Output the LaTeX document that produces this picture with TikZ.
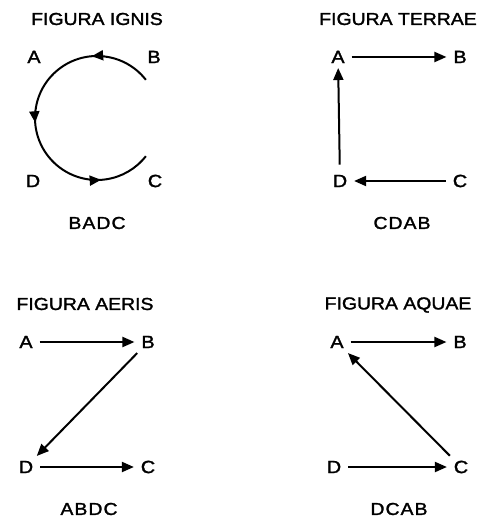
\documentclass[tikz,border=0pt]{standalone}
\usepackage{fontspec}
\setmainfont[FakeStretch=1.12,FakeBold=1.6]{Liberation Sans}
\newfontfamily\seqfont[FakeStretch=1.12,FakeBold=1.6,LetterSpace=6]{Liberation Sans}
\usetikzlibrary{arrows.meta,decorations.markings,calc}
\begin{document}
\begin{tikzpicture}[x=0.75pt,y=-0.75pt,
  lbl/.style={font=\fontsize{13.3}{15}\selectfont, inner xsep=5pt, inner ysep=3.5pt},
  ttl/.style={font=\fontsize{13}{15}\selectfont, inner sep=0pt},
  seq/.style={font=\seqfont\fontsize{13}{15}\selectfont, inner sep=0pt},
  tip/.style={-{Triangle[length=9pt,width=7.5pt]}},
  arr/.style={line width=1.5pt, tip},
  circarc/.style={line width=1.5pt,
    postaction={decorate},
    decoration={markings,
      mark=at position 0.20 with {\arrow{Triangle[length=8.5pt,width=7.5pt]}},
      mark=at position 0.515 with {\arrow{Triangle[length=8.5pt,width=7.5pt]}},
      mark=at position 0.83 with {\arrow{Triangle[length=8.5pt,width=7.5pt]}}}}]
\useasboundingbox (0,0) rectangle (478,520);

% ---------- FIGURA IGNIS ----------
\node[ttl] (t1) at (97,19) {FIGURA IGNIS};
\node[lbl] (a1) at (34,57) {A};
\node[lbl] (b1) at (154,57) {B};
\node[lbl] (d1) at (33,181) {D};
\node[lbl] (c1) at (155,181) {C};
\node[seq] (s1) at (97,223) {BADC};
\coordinate (ig) at (97,118);
\coordinate (igs) at ($(ig)+(-38:62)$);
\draw[circarc] (igs) arc[start angle=-38, end angle=-322, radius=62];

% ---------- FIGURA TERRAE ----------
\node[ttl] (t2) at (398,19) {FIGURA TERRAE};
\node[lbl] (a2) at (338,57) {A};
\node[lbl] (b2) at (460,57) {B};
\node[lbl] (d2) at (340,181) {D};
\node[lbl] (c2) at (460,181) {C};
\node[seq] (s2) at (402,223) {CDAB};
\draw[arr] (a2) -- (b2);
\draw[arr, shorten <=4pt] (d2) -- (a2);
\draw[arr] (c2) -- (d2);

% ---------- FIGURA AERIS ----------
\node[ttl] (t3) at (85,304) {FIGURA AERIS};
\node[lbl] (a3) at (26,342) {A};
\node[lbl] (b3) at (148,342) {B};
\node[lbl] (d3) at (26,467) {D};
\node[lbl] (c3) at (148,467) {C};
\node[seq] (s3) at (89,509) {ABDC};
\draw[arr] (a3) -- (b3);
\draw[arr] (b3) -- (d3);
\draw[arr] (d3) -- (c3);

% ---------- FIGURA AQUAE ----------
\node[ttl] (t4) at (398,305) {FIGURA AQUAE};
\node[lbl] (a4) at (337,342) {A};
\node[lbl] (b4) at (460,342) {B};
\node[lbl] (d4) at (334,467) {D};
\node[lbl] (c4) at (461,467) {C};
\node[seq] (s4) at (399,509) {DCAB};
\draw[arr] (a4) -- (b4);
\draw[arr] (c4) -- (a4);
\draw[arr] (d4) -- (c4);
\end{tikzpicture}
\end{document}
